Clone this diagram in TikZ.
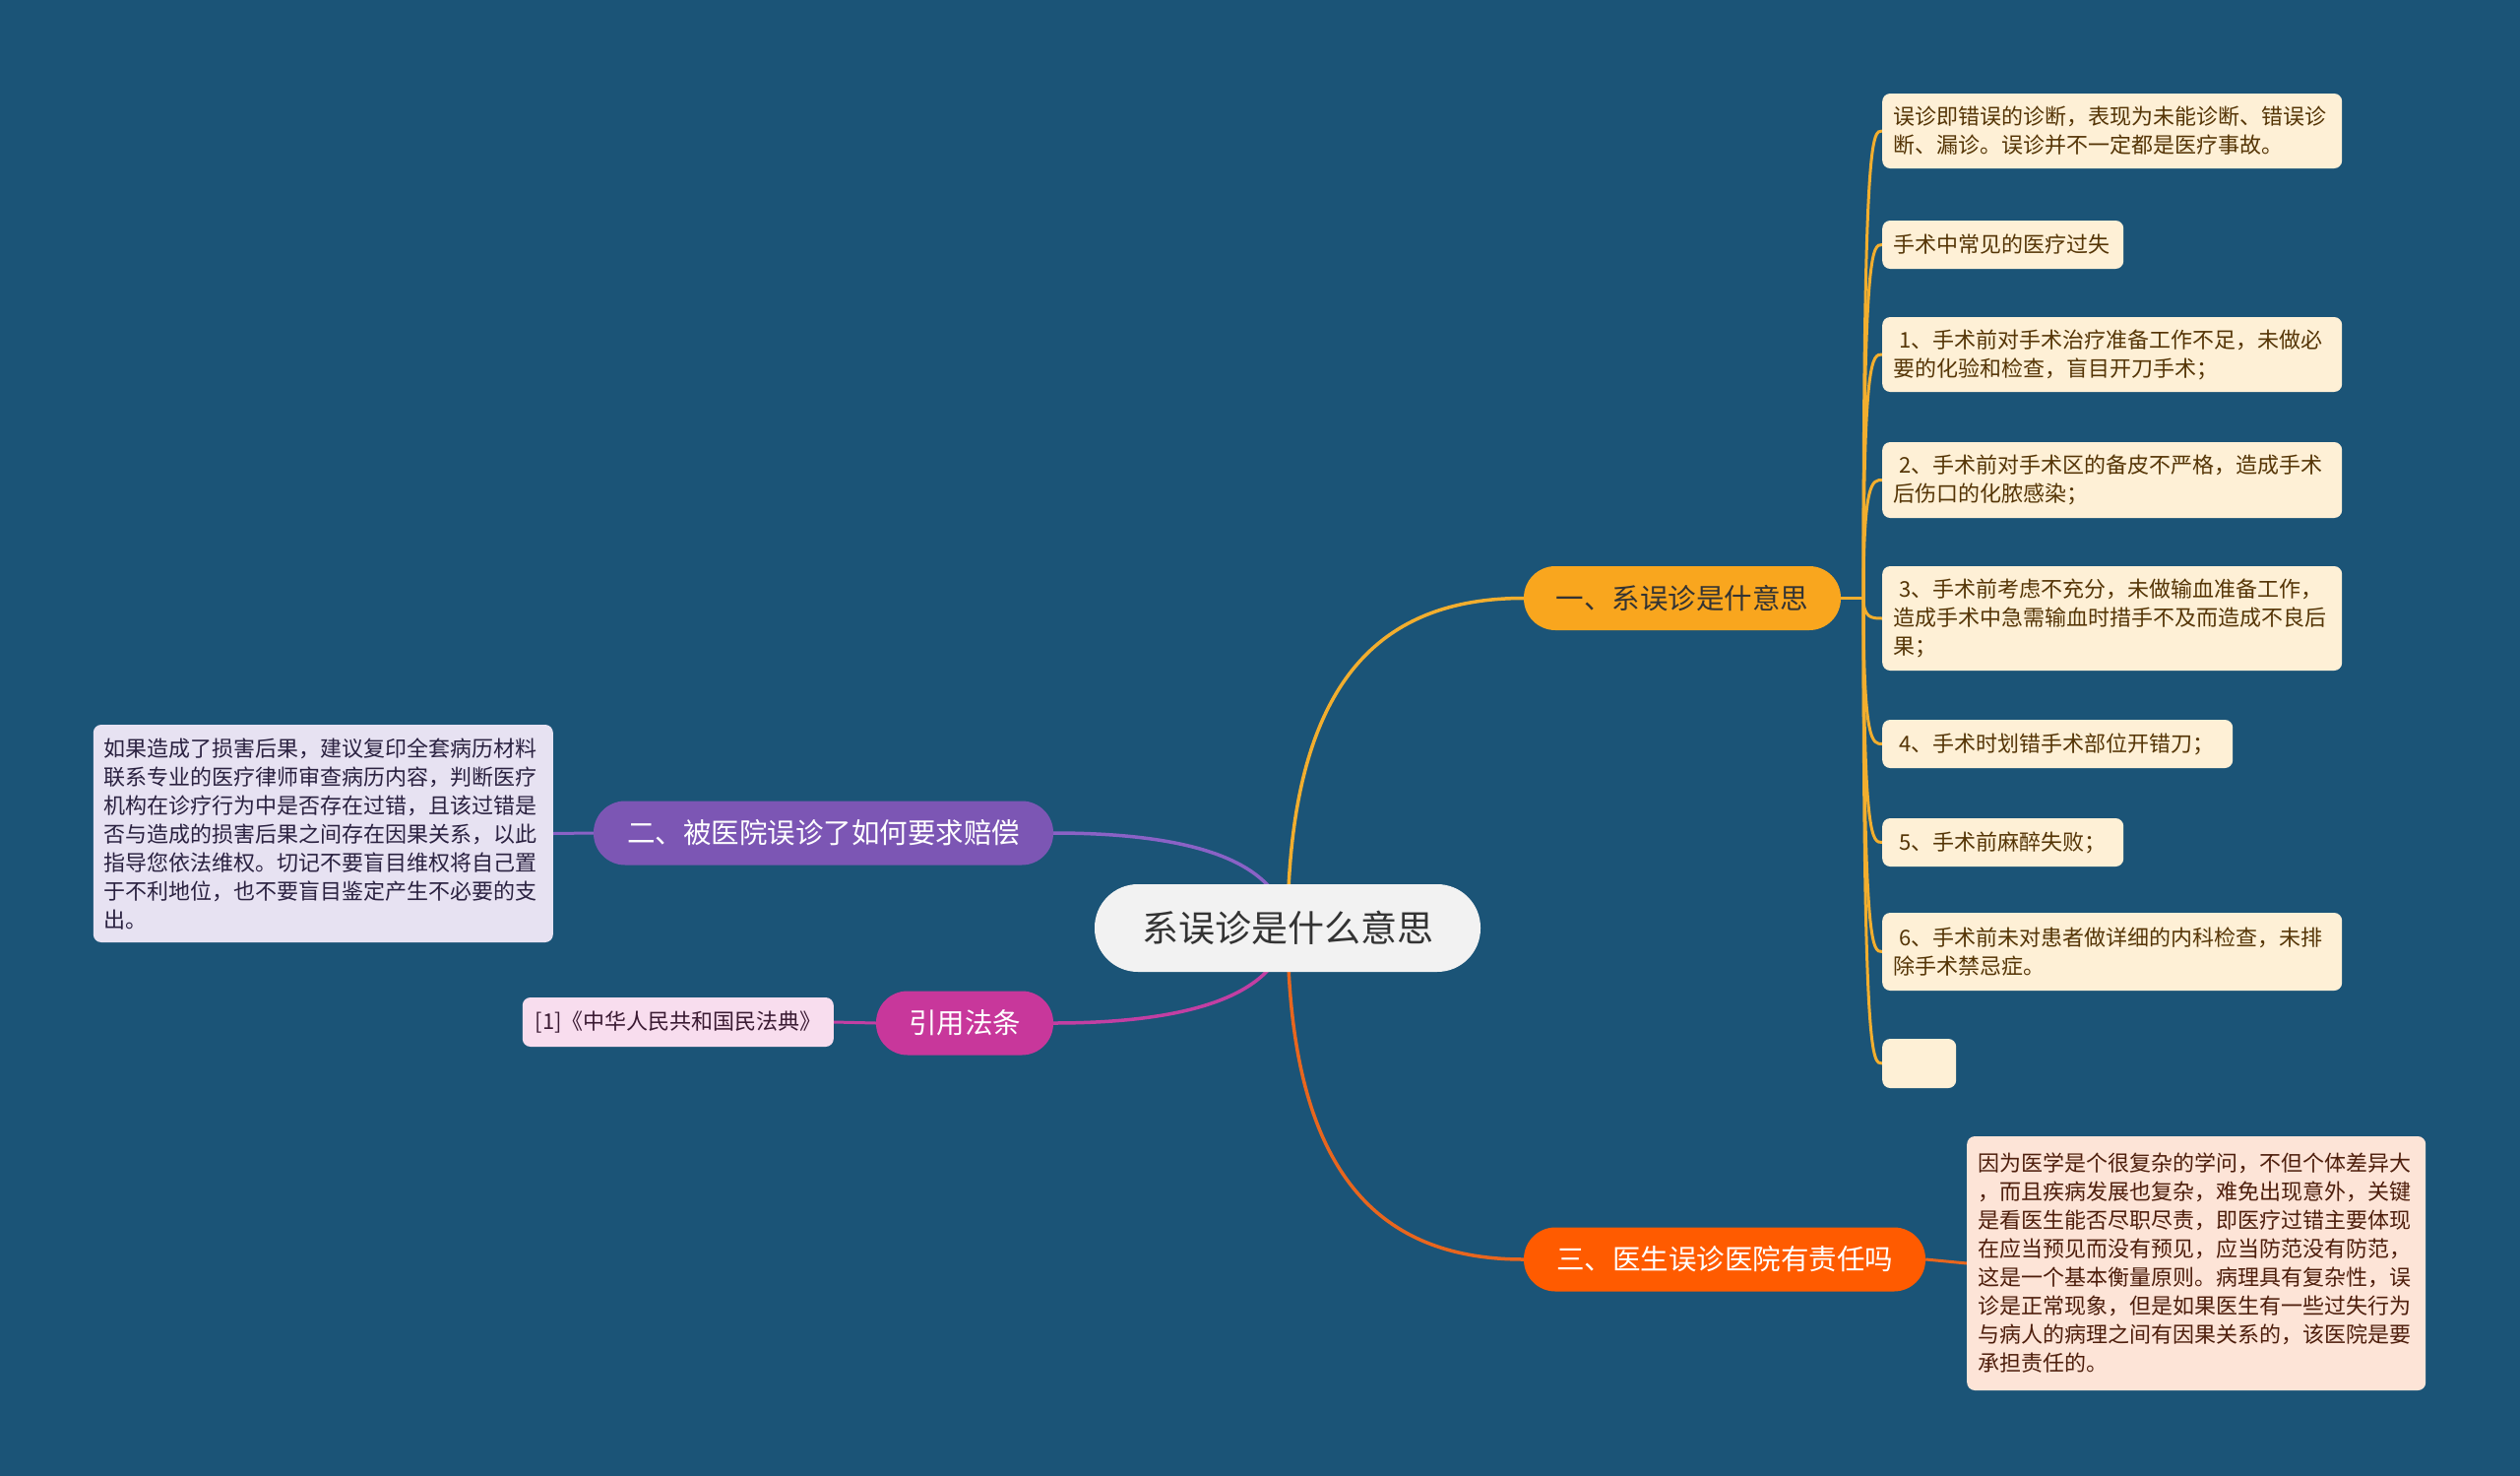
\documentclass[tikz,border=0pt]{standalone}
\usepackage{fontspec}
\setmainfont{Noto Sans CJK SC}
\definecolor{bgc}{HTML}{1B5477}
\definecolor{rootfill}{HTML}{F2F2F2}
\definecolor{roottext}{HTML}{333333}
\definecolor{cA}{HTML}{F9A61E}
\definecolor{cB}{HTML}{7C56B4}
\definecolor{cC}{HTML}{FF5B00}
\definecolor{cD}{HTML}{C8379B}
\definecolor{lineA}{HTML}{F2AE2E}
\definecolor{lineB}{HTML}{8A62C6}
\definecolor{lineC}{HTML}{E8661E}
\definecolor{lineD}{HTML}{C23FA3}
\definecolor{leafAfill}{HTML}{FEF0D6}
\definecolor{leafAtext}{HTML}{553506}
\definecolor{leafBfill}{HTML}{E7E2F2}
\definecolor{leafBtext}{HTML}{2A2140}
\definecolor{leafCfill}{HTML}{FDE4D7}
\definecolor{leafCtext}{HTML}{4E1E0C}
\definecolor{leafDfill}{HTML}{F8DDEE}
\definecolor{leafDtext}{HTML}{3A1A32}
\pgfdeclarelayer{bglayer}
\pgfdeclarelayer{edges}
\pgfsetlayers{bglayer,edges,main}
\begin{document}
\begin{tikzpicture}[x=1pt,y=-1pt,
  rootnode/.style={fill=rootfill, text=roottext, rounded corners=44pt, minimum width=392pt, minimum height=89pt, inner sep=0pt, font=\fontsize{37}{44}\selectfont},
  branchnode/.style={rounded corners=32pt, minimum height=65pt, inner sep=0pt, font=\fontsize{28.5}{34}\selectfont},
  leafbase/.style={rounded corners=8pt, inner xsep=11pt, inner ysep=0pt, align=left, font=\fontsize{22}{29}\selectfont},
  leafA/.style={leafbase, fill=leafAfill, text=leafAtext, anchor=west},
  leafB/.style={leafbase, fill=leafBfill, text=leafBtext},
  leafC/.style={leafbase, fill=leafCfill, text=leafCtext},
  leafD/.style={leafbase, fill=leafDfill, text=leafDtext},
  mainedge/.style={line width=3.5pt},
  leafedge/.style={line width=3pt}
]
\begin{pgfonlayer}{bglayer}
\fill[bgc] (0,0) rectangle (2560,1499);
\end{pgfonlayer}
\useasboundingbox (0,0) rectangle (2560,1499);

% root and branches
\node[rootnode] (root) at (1308,942.5) {系误诊是什么意思};
\node[branchnode, fill=cA, text=roottext, minimum width=322pt] (bA) at (1709,607.5) {一、系误诊是什意思};
\node[branchnode, fill=cC, text=white, minimum width=408pt] (bC) at (1752,1279) {三、医生误诊医院有责任吗};
\node[branchnode, fill=cB, text=white, minimum width=467pt] (bB) at (836.5,846) {二、被医院误诊了如何要求赔偿};
\node[branchnode, fill=cD, text=white, minimum width=180pt] (bD) at (980,1039) {引用法条};

% leaves of branch A
\node[leafA, text width=445pt, minimum height=76pt] (a1) at (1912,133) {误诊即错误的诊断，表现为未能诊断、错误诊\\断、漏诊。误诊并不一定都是医疗事故。};
\node[leafA, text width=223pt, minimum height=49pt] (a2) at (1912,248.5) {手术中常见的医疗过失};
\node[leafA, text width=445pt, minimum height=76pt] (a3) at (1912,360) {\hspace*{6pt}1、手术前对手术治疗准备工作不足，未做必\\要的化验和检查，盲目开刀手术；};
\node[leafA, text width=445pt, minimum height=77pt] (a4) at (1912,487.5) {\hspace*{6pt}2、手术前对手术区的备皮不严格，造成手术\\后伤口的化脓感染；};
\node[leafA, text width=445pt, minimum height=106pt] (a5) at (1912,628) {\hspace*{6pt}3、手术前考虑不充分，未做输血准备工作，\\造成手术中急需输血时措手不及而造成不良后\\果；};
\node[leafA, text width=334pt, minimum height=49pt] (a6) at (1912,755.5) {\hspace*{6pt}4、手术时划错手术部位开错刀；};
\node[leafA, text width=223pt, minimum height=49pt] (a7) at (1912,855.5) {\hspace*{6pt}5、手术前麻醉失败；};
\node[leafA, text width=445pt, minimum height=79pt] (a8) at (1912,966.5) {\hspace*{6pt}6、手术前未对患者做详细的内科检查，未排\\除手术禁忌症。};
\node[leafA, minimum width=75pt, minimum height=50pt] (a9) at (1912,1080) {};

% leaf of branch B
\node[leafB, anchor=east, text width=445pt, minimum height=221pt] (lB) at (562,846.5) {如果造成了损害后果，建议复印全套病历材料\\联系专业的医疗律师审查病历内容，判断医疗\\机构在诊疗行为中是否存在过错，且该过错是\\否与造成的损害后果之间存在因果关系，以此\\指导您依法维权。切记不要盲目维权将自己置\\于不利地位，也不要盲目鉴定产生不必要的支\\出。};

% leaf of branch D
\node[leafD, anchor=east, inner xsep=13pt, text width=290pt, minimum height=50pt] (lD) at (847,1038) {[1]《中华人民共和国民法典》};

% leaf of branch C
\node[leafC, anchor=west, text width=444pt, minimum height=258pt] (lC) at (1998,1283) {因为医学是个很复杂的学问，不但个体差异大\\，而且疾病发展也复杂，难免出现意外，关键\\是看医生能否尽职尽责，即医疗过错主要体现\\在应当预见而没有预见，应当防范没有防范，\\这是一个基本衡量原则。病理具有复杂性，误\\诊是正常现象，但是如果医生有一些过失行为\\与病人的病理之间有因果关系的，该医院是要\\承担责任的。};

\coordinate (jA) at (1893,607.5);

\begin{pgfonlayer}{edges}
  % root to branches
  \draw[mainedge, lineA] (root.center) .. controls (1309,700) and (1395,607.5) .. (bA.west);
  \draw[mainedge, lineC] (root.center) .. controls (1309,1185) and (1395,1279) .. (bC.west);
  \draw[mainedge, lineB] (root.center) .. controls (1300,870) and (1200,846) .. (bB.east);
  \draw[mainedge, lineD] (root.center) .. controls (1300,1014) and (1200,1039) .. (bD.east);
  % branch A to leaves
  \draw[leafedge, lineA] (bA.east) -- (jA);
  \foreach \n in {a1,a2,a3,a4,a5,a6,a7,a8,a9}{
    \draw[leafedge, lineA] (jA) .. controls (jA |- \n.west) and ([xshift=-10pt]\n.west) .. (\n.west);
  }
  % other leaves
  \draw[leafedge, lineB] (bB.west) -- (lB.east);
  \draw[leafedge, lineD] (bD.west) -- (lD.east);
  \draw[leafedge, lineC] (bC.east) -- (lC.west);
\end{pgfonlayer}
\end{tikzpicture}
\end{document}
